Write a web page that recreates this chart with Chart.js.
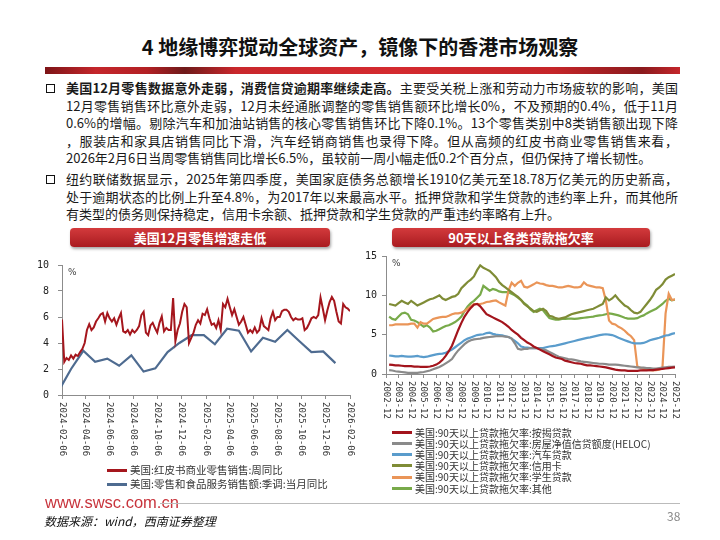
<!DOCTYPE html>
<html>
<head>
<meta charset="utf-8">
<script src="https://cdn.jsdelivr.net/npm/chart.js@4.4.1/dist/chart.umd.min.js"></script>
<style>
body{margin:0;width:720px;height:540px;background:#fff;position:relative;overflow:hidden;font-family:"Noto Sans CJK SC","Noto Sans",sans-serif;color:#111}
#title{position:absolute;left:0;top:33px;width:720px;text-align:center;font-size:20px;font-weight:bold;line-height:28px;color:#111}
#bar{position:absolute;left:45px;top:67px;width:635px;height:7px;background:linear-gradient(to right,#7d1417 0%,#c4262b 8%,#b32024 16%,#6e1a1a 22%,#c9272c 30%,#d42a2f 55%,#c52529 80%,#8a1a1d 94%,#c4262b 100%)}
.ln{position:absolute;left:66px;width:612px;font-size:13px;line-height:17px;white-space:nowrap;color:#1a1a1a}
.full{text-align:justify;text-align-last:justify}
.sq{position:absolute;left:46px;width:7px;height:7px;border:1.6px solid #111}
.banner{position:absolute;top:228px;height:19px;line-height:19px;text-align:center;color:#fff;font-weight:bold;font-size:13px;border-radius:4px;background:linear-gradient(#d33a3c,#a91b20);box-shadow:1px 2px 3px rgba(0,0,0,0.35)}
canvas{position:absolute}
.lg{position:absolute;white-space:nowrap;color:#333}
.lg span{display:inline-block;vertical-align:middle}
#site{position:absolute;left:45px;top:492px;font-family:"Liberation Sans",Arial,sans-serif;font-size:16.5px;color:#c8343c;line-height:20px}
#rule{position:absolute;left:160px;top:503px;width:520px;height:1px;background:#bbb}
#src{position:absolute;left:44px;top:512px;font-size:12px;font-style:italic;line-height:18px;color:#111}
#page{position:absolute;left:667px;top:507px;font-size:12px;color:#888}
</style>
</head>
<body>
<div id="title">4 地缘博弈搅动全球资产，镜像下的香港市场观察</div>
<div id="bar"></div>

<div class="sq" style="top:84px"></div>
<div class="ln full" style="top:79px"><b>美国12月零售数据意外走弱，消费信贷逾期率继续走高。</b>主要受关税上涨和劳动力市场疲软的影响，美国</div>
<div class="ln full" style="top:96.5px">12月零售销售环比意外走弱，12月未经通胀调整的零售销售额环比增长0%，不及预期的0.4%，低于11月</div>
<div class="ln full" style="top:114px">0.6%的增幅。剔除汽车和加油站销售的核心零售销售环比下降0.1%。13个零售类别中8类销售额出现下降</div>
<div class="ln full" style="top:131.5px">，服装店和家具店销售同比下滑，汽车经销商销售也录得下降。但从高频的红皮书商业零售销售来看，</div>
<div class="ln" style="top:149px">2026年2月6日当周零售销售同比增长6.5%，虽较前一周小幅走低0.2个百分点，但仍保持了增长韧性。</div>

<div class="sq" style="top:175px"></div>
<div class="ln full" style="top:170px">纽约联储数据显示，2025年第四季度，美国家庭债务总额增长1910亿美元至18.78万亿美元的历史新高，</div>
<div class="ln full" style="top:187.5px">处于逾期状态的比例上升至4.8%，为2017年以来最高水平。抵押贷款和学生贷款的违约率上升，而其他所</div>
<div class="ln" style="top:205px">有类型的债务则保持稳定，信用卡余额、抵押贷款和学生贷款的严重违约率略有上升。</div>

<div class="banner" style="left:70px;width:260px">美国12月零售增速走低</div>
<div class="banner" style="left:392px;width:258px">90天以上各类贷款拖欠率</div>

<canvas id="leftChart" width="340" height="215" style="left:20px;top:250px"></canvas>
<canvas id="rightChart" width="330" height="185" style="left:356px;top:245px"></canvas>
<div id="leftLegend"></div>
<div id="rightLegend"></div>

<div id="site">www.swsc.com.cn</div>
<div id="rule"></div>
<div id="src">数据来源：wind，西南证券整理</div>
<div id="page">38</div>

<script>
// left chart: Redbook weekly yoy + monthly retail sales yoy
const leftTickLabels = ['2024-02-06','2024-04-06','2024-06-06','2024-08-06','2024-10-06','2024-12-06',
  '2025-02-06','2025-04-06','2025-06-06','2025-08-06','2025-10-06','2025-12-06','2026-02-06'];

const redbookYoy = [5.8,2.55,2.85,2.7,3.05,2.8,3.1,3.0,3.3,3.55,4.0,5.0,5.45,5.0,5.2,5.65,5.9,6.2,6.3,5.65,
  6.3,5.9,5.65,5.9,5.4,5.9,6.3,4.9,4.8,5.0,4.65,5.0,4.8,5.0,5.3,6.15,6.4,4.8,4.6,5.35,
  5.55,5.15,4.8,5.55,6.05,4.9,5.15,5.0,5.0,7.45,4.15,5.0,5.5,6.4,7.0,6.75,4.0,4.4,4.8,5.4,
  5.75,5.5,6.25,6.15,6.6,5.9,5.4,5.5,5.15,5.75,5.0,7.0,6.75,7.4,6.75,6.15,6.6,6.0,5.4,5.65,
  6.0,5.4,4.8,5.0,4.8,5.2,4.8,5.0,5.9,5.3,5.15,5.0,5.9,6.4,5.75,6.0,6.0,6.45,6.55,6.55,
  6.4,6.0,5.75,5.9,5.8,5.8,5.9,5.0,5.15,5.5,5.9,6.0,5.9,6.15,7.5,6.65,5.75,6.5,7.15,7.55,
  7.25,6.4,5.65,5.5,7.0,6.75,6.65,6.45];

const retailMonths = ['2024-01','2024-02','2024-03','2024-04','2024-05','2024-06','2024-07','2024-08',
  '2024-09','2024-10','2024-11','2024-12','2025-01','2025-02','2025-03','2025-04','2025-05','2025-06',
  '2025-07','2025-08','2025-09','2025-10','2025-11','2025-12'];
const retailYoy = [0.45,2.0,3.4,2.55,2.8,2.25,3.05,1.8,2.05,3.3,4.0,4.6,
  4.6,3.9,5.1,4.95,3.35,4.4,4.1,5.0,4.15,3.3,3.35,2.45];

const leftNames = ['美国:红皮书商业零售销售:周同比', '美国:零售和食品服务销售额:季调:当月同比'];
const leftColors = ['#a5161d', '#4e6b90'];

// right chart: NY Fed 90+ delinquency by loan type, quarterly 2003Q1-2025Q4
const rightTickLabels = ['2002-12','2003-12','2004-12','2005-12','2006-12','2007-12','2008-12','2009-12',
  '2010-12','2011-12','2012-12','2013-12','2014-12','2015-12','2016-12','2017-12','2018-12','2019-12',
  '2020-12','2021-12','2022-12','2023-12','2024-12','2025-12'];

const mortgage = [1.2,1.15,1.1,1.1, 1.05,1.0,1.0,1.0, 0.95,0.95,0.9,0.9, 0.9,0.95,1.05,1.2,
  1.45,1.8,2.3,2.9, 3.6,4.6,5.6,6.5, 7.3,7.9,8.4,8.8, 8.9,8.6,8.1,7.6,
  7.4,7.2,7.0,6.8, 6.6,6.3,6.0,5.6, 5.3,5.0,4.6,4.3, 4.0,3.8,3.5,3.3,
  3.1,2.9,2.7,2.5, 2.3,2.1,2.0,1.9, 1.7,1.6,1.5,1.4, 1.35,1.3,1.2,1.1,
  1.1,1.05,1.0,0.95, 0.9,0.85,0.75,0.65, 0.55,0.5,0.45,0.45, 0.4,0.4,0.4,0.4,
  0.45,0.45,0.45,0.5, 0.5,0.55,0.6,0.65, 0.7,0.75,0.8,0.85];
const heloc = [0.5,0.45,0.35,0.3, 0.25,0.2,0.15,0.15, 0.15,0.15,0.2,0.25, 0.35,0.45,0.6,0.75,
  0.9,1.1,1.35,1.6, 1.9,2.5,3.0,3.4, 3.8,4.1,4.3,4.4, 4.45,4.5,4.6,4.65,
  4.7,4.75,4.8,4.8, 4.8,4.75,4.7,4.5, 3.9,3.2,3.1,3.2, 3.2,3.3,3.3,3.3,
  3.2,3.1,3.0,2.8, 2.6,2.4,2.2,2.1, 2.0,1.9,1.85,1.8, 1.7,1.6,1.55,1.5,
  1.45,1.4,1.35,1.3, 1.3,1.25,1.2,1.2, 1.2,1.15,1.1,1.05, 1.0,0.95,0.9,0.85,
  0.8,0.8,0.75,0.75, 0.7,0.7,0.75,0.8, 0.85,0.9,0.9,0.95];
const autoLoan = [2.35,2.3,2.25,2.25, 2.3,2.25,2.2,2.2, 2.25,2.3,2.2,2.15, 2.2,2.3,2.4,2.5,
  2.55,2.6,2.7,2.9, 3.1,3.4,3.7,4.0, 4.3,4.5,4.65,4.8, 4.95,5.0,5.05,5.2,
  5.25,5.1,5.0,4.95, 4.9,4.8,4.7,4.5, 4.2,3.9,3.5,3.4, 3.35,3.3,3.3,3.3,
  3.3,3.3,3.4,3.5, 3.55,3.6,3.7,3.8, 3.9,4.0,4.1,4.2, 4.3,4.4,4.5,4.6,
  4.65,4.75,4.85,4.95, 5.0,5.05,5.0,4.95, 4.8,4.6,4.45,4.3, 4.15,4.0,3.9,3.9,
  3.9,3.95,4.1,4.3, 4.4,4.5,4.6,4.75, 4.9,4.95,5.1,5.2];
const creditCard = [8.9,8.8,8.7,9.0, 9.3,9.1,8.9,9.3, 9.0,8.7,8.9,9.1, 9.3,9.5,9.6,9.8,
  10.0,9.6,9.4,9.6, 9.8,9.9,10.2,10.9, 11.3,11.7,12.0,12.4, 13.2,13.8,13.5,13.3,
  13.1,12.7,12.3,11.7, 11.3,11.0,10.7,10.4, 10.1,9.8,9.4,8.9, 8.6,8.3,8.0,7.9,
  8.1,8.3,8.0,7.4, 7.3,7.1,7.0,7.1, 7.2,7.4,7.6,7.7, 7.8,7.9,8.0,8.1,
  8.2,8.3,8.5,8.7, 8.9,9.75,9.35,9.6, 10.0,9.5,9.1,8.7, 8.5,8.1,7.8,7.7,
  7.9,8.4,8.9,9.4, 10.0,10.7,11.0,11.4, 12.0,12.3,12.5,12.7];
const studentLoan = [6.2,6.2,6.3,6.3, 6.3,6.3,6.3,6.4, 6.4,5.9,6.6,6.4, 6.4,6.7,7.0,7.1,
  7.2,7.25,7.25,7.4, 7.6,7.7,7.7,7.8, 8.0,8.3,8.6,8.9, 8.9,8.9,9.0,9.15,
  9.2,9.3,9.35,9.1, 8.9,8.7,10.6,11.6, 11.2,11.6,11.85,11.1, 11.0,11.2,11.4,11.65,
  11.5,11.45,11.3,11.2, 11.2,11.1,11.0,11.0, 11.1,11.2,11.1,11.0, 11.0,11.1,11.65,11.3,
  11.2,11.1,11.0,11.0, 10.9,9.3,6.8,6.4, 6.3,6.0,5.8,5.5, 5.1,4.8,4.3,0.95,
  0.8,0.65,0.55,0.5, 0.45,0.5,0.55,0.75, 7.7,10.2,9.4,9.5];
const otherLoan = [7.3,7.0,6.9,7.3, 7.7,7.8,7.6,6.9, 6.8,6.6,6.3,6.0, 6.2,5.9,5.4,5.5,
  5.7,5.9,6.1,6.2, 6.4,6.6,6.9,7.3, 8.0,8.6,9.0,9.3, 9.7,10.1,11.2,10.9,
  10.6,10.8,10.7,10.5, 10.4,10.4,10.4,10.2, 10.0,9.7,9.4,9.0, 8.7,8.2,7.9,8.1,
  8.3,8.1,7.6,7.1, 7.0,6.9,6.9,7.0, 7.0,7.05,7.05,7.0, 7.05,7.1,7.15,7.2,
  7.25,7.3,7.4,7.45, 7.5,7.6,7.7,7.65, 7.55,7.45,7.3,7.15, 7.05,7.05,7.05,7.1,
  7.3,7.45,7.7,7.9, 8.1,8.3,8.6,8.9, 9.3,9.55,9.35,9.45];

const rightNames = ['美国:90天以上贷款拖欠率:按揭贷款','美国:90天以上贷款拖欠率:房屋净值信贷额度(HELOC)',
  '美国:90天以上贷款拖欠率:汽车贷款','美国:90天以上贷款拖欠率:信用卡','美国:90天以上贷款拖欠率:学生贷款',
  '美国:90天以上贷款拖欠率:其他'];
const rightSeries = [mortgage, heloc, autoLoan, creditCard, studentLoan, otherLoan];
const rightColors = ['#a3141c', '#8a8a8a', '#5a9ccc', '#7f8c36', '#ea9558', '#78aa4a'];

const DAY = 86400000;
const t0 = Date.UTC(2024, 1, 6);
function dayOffset(s) {
  let p = s.split('-').map(Number);
  return (Date.UTC(p[0], p[1]-1, p[2]) - t0) / DAY;
}
function monthEnd(s) {
  let p = s.split('-').map(Number);
  return (Date.UTC(p[0], p[1], 0) - t0) / DAY;
}
const leftSpan = dayOffset(leftTickLabels[leftTickLabels.length-1]);

// quarter ends: 2003-03 = 2003 + 2/12
function quarterX(i) { return 2003 + 2/12 + i*0.25; }
function tickYear(s) { return Number(s.slice(0,4)) + 11/12; }

// draws x labels turned 90deg clockwise, reading top to bottom
const vertLabels = {
  id: 'vertLabels',
  afterDraw(chart, args, opts) {
    const sx = chart.scales.x, c = chart.ctx;
    c.save();
    c.font = opts.font;
    c.fillStyle = '#333';
    c.textAlign = 'left';
    c.textBaseline = 'middle';
    sx.ticks.forEach((t, i) => {
      c.save();
      c.translate(sx.getPixelForValue(t.value), sx.top + opts.gap);
      c.rotate(Math.PI/2);
      c.fillText(opts.labels[i], 0, 0);
      c.restore();
    });
    c.fillStyle = '#444';
    c.font = '9px "DejaVu Sans"';
    c.fillText('%', chart.chartArea.left + 6, chart.chartArea.top + 8);
    c.restore();
  }
};

function axisOpts(extra) {
  return Object.assign({
    grid: {drawOnChartArea: false, tickLength: 4, color: '#8c8c8c'},
    border: {color: '#8c8c8c'},
  }, extra);
}

new Chart(document.getElementById('leftChart'), {
  type: 'line',
  data: {
    datasets: [
      {
        label: leftNames[0],
        data: redbookYoy.map((v, i) => ({x: i*leftSpan/(redbookYoy.length-1), y: v})),
        borderColor: leftColors[0], borderWidth: 2, pointRadius: 0
      },
      {
        label: leftNames[1],
        data: retailMonths.map((m, i) => ({x: monthEnd(m), y: retailYoy[i]})),
        borderColor: leftColors[1], borderWidth: 2.2, pointRadius: 0
      }
    ]
  },
  options: {
    responsive: false,
    animation: false,
    layout: {padding: {top: 11, right: 10, left: 0, bottom: 0}},
    plugins: {
      legend: {display: false},
      tooltip: {enabled: false},
      vertLabels: {labels: leftTickLabels, font: '9px "DejaVu Sans Mono"', gap: 7}
    },
    scales: {
      x: axisOpts({
        type: 'linear', min: 0, max: leftSpan,
        afterBuildTicks: (s) => { s.ticks = leftTickLabels.map(l => ({value: dayOffset(l)})); },
        ticks: {display: false},
        afterFit: (s) => { s.height = 70; }
      }),
      y: axisOpts({
        min: 0, max: 10,
        ticks: {stepSize: 2, color: '#222', padding: 9, font: {family: 'DejaVu Sans Mono', size: 10}},
        afterFit: (s) => { s.width = 42; }
      })
    }
  },
  plugins: [vertLabels]
});

new Chart(document.getElementById('rightChart'), {
  type: 'line',
  data: {
    datasets: rightSeries.map((vals, k) => ({
      label: rightNames[k],
      data: vals.map((v, i) => ({x: quarterX(i), y: v})),
      borderColor: rightColors[k], borderWidth: 2.2, pointRadius: 0
    }))
  },
  options: {
    responsive: false,
    animation: false,
    layout: {padding: {top: 10, right: 11, left: 0, bottom: 0}},
    plugins: {
      legend: {display: false},
      tooltip: {enabled: false},
      vertLabels: {labels: rightTickLabels, font: '9px "DejaVu Sans Mono"', gap: 7}
    },
    scales: {
      x: axisOpts({
        type: 'linear', min: tickYear(rightTickLabels[0]), max: tickYear(rightTickLabels[rightTickLabels.length-1]),
        afterBuildTicks: (s) => { s.ticks = rightTickLabels.map(l => ({value: tickYear(l)})); },
        ticks: {display: false},
        afterFit: (s) => { s.height = 56; }
      }),
      y: axisOpts({
        min: 0, max: 15,
        ticks: {stepSize: 5, color: '#222', padding: 5, font: {family: 'DejaVu Sans Mono', size: 10}},
        afterFit: (s) => { s.width = 30; }
      })
    }
  },
  plugins: [vertLabels]
});

function buildLegend(id, names, colors, left, top, step, size) {
  let box = document.getElementById(id);
  names.forEach((n, i) => {
    let row = document.createElement('div');
    row.className = 'lg';
    row.style.left = left + 'px';
    row.style.top = (top + i*step) + 'px';
    row.style.fontSize = size + 'px';
    row.style.lineHeight = step + 'px';
    row.innerHTML = '<span style="width:20px;height:3px;background:' + colors[i] + ';margin-right:3px"></span><span>' + n + '</span>';
    box.appendChild(row);
  });
}
buildLegend('leftLegend', leftNames, leftColors, 107, 462, 14, 10.5);
buildLegend('rightLegend', rightNames, rightColors, 392, 425, 11.2, 10);
</script>
</body>
</html>
